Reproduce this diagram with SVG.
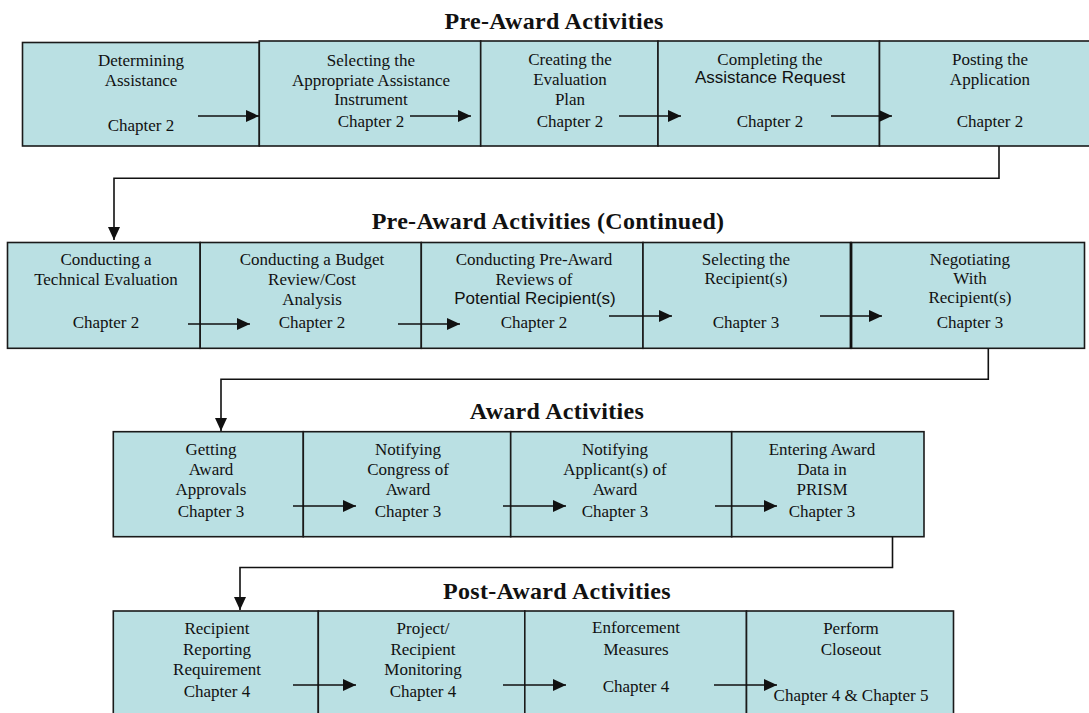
<svg xmlns="http://www.w3.org/2000/svg" width="1089" height="713" viewBox="0 0 1089 713">
<style>
.box{fill:#BAE0E3;stroke:#1a1a1a;stroke-width:1.6}
.t{font-family:"Liberation Serif","Times New Roman",serif;font-size:17px;fill:#111;text-anchor:middle}
.s{font-family:"Liberation Sans",Arial,sans-serif;font-size:17px;fill:#111;text-anchor:middle}
.h{font-family:"Liberation Serif","Times New Roman",serif;font-size:24px;font-weight:bold;fill:#111;text-anchor:middle;letter-spacing:0.3px}
.c{fill:none;stroke:#111;stroke-width:1.6}
</style>
<defs>
<marker id="ah" viewBox="0 0 13 12" refX="13" refY="6" markerWidth="13" markerHeight="12" markerUnits="userSpaceOnUse" orient="auto">
<path d="M0,0 L13,6 L0,12 z" fill="#111"/>
</marker>
</defs>
<rect width="1089" height="713" fill="#fff"/>
<g id="titles">
<text class="h" x="554" y="29">Pre-Award Activities</text>
<text class="h" x="548" y="229">Pre-Award Activities (Continued)</text>
<text class="h" x="557" y="419">Award Activities</text>
<text class="h" x="557" y="599">Post-Award Activities</text>
</g>
<g id="n1"><rect class="box" x="22.5" y="42.5" width="236.8" height="103.5"/>
<text class="t" x="141" y="66">Determining</text><text class="t" x="141" y="86">Assistance</text><text class="t" x="141" y="131">Chapter 2</text></g>
<g id="n2"><rect class="box" x="259.3" y="41" width="221.4" height="105"/>
<text class="t" x="371" y="66">Selecting the</text><text class="t" x="371" y="86">Appropriate Assistance</text><text class="t" x="371" y="105">Instrument</text><text class="t" x="371" y="127">Chapter 2</text></g>
<g id="n3"><rect class="box" x="480.7" y="41" width="177.3" height="105"/>
<text class="t" x="570" y="65">Creating the</text><text class="t" x="570" y="85">Evaluation</text><text class="t" x="570" y="105">Plan</text><text class="t" x="570" y="127">Chapter 2</text></g>
<g id="n4"><rect class="box" x="658" y="41" width="221.5" height="105"/>
<text class="t" x="770" y="65">Completing the</text><text class="s" x="770" y="83">Assistance Request</text><text class="t" x="770" y="127">Chapter 2</text></g>
<g id="n5"><rect class="box" x="879.5" y="41" width="215" height="105"/>
<text class="t" x="990" y="65">Posting the</text><text class="t" x="990" y="85">Application</text><text class="t" x="990" y="127">Chapter 2</text></g>

<g id="n6"><rect class="box" x="7.5" y="242.5" width="192.7" height="105.8"/>
<text class="t" x="106" y="265">Conducting a</text><text class="t" x="106" y="285">Technical Evaluation</text><text class="t" x="106" y="328">Chapter 2</text></g>
<g id="n7"><rect class="box" x="200.2" y="242.5" width="221.1" height="105.8"/>
<text class="t" x="312" y="265">Conducting a Budget</text><text class="t" x="312" y="285">Review/Cost</text><text class="t" x="312" y="305">Analysis</text><text class="t" x="312" y="328">Chapter 2</text></g>
<g id="n8"><rect class="box" x="421.3" y="242.5" width="221.7" height="105.8"/>
<text class="t" x="534" y="265">Conducting Pre-Award</text><text class="t" x="534" y="285">Reviews of</text><text class="s" x="535" y="304">Potential Recipient(s)</text><text class="t" x="534" y="328">Chapter 2</text></g>
<g id="n9"><rect class="box" x="643" y="242.5" width="208" height="105.8"/>
<text class="t" x="746" y="265">Selecting the</text><text class="t" x="746" y="284">Recipient(s)</text><text class="t" x="746" y="328">Chapter 3</text></g>
<g id="n10"><rect class="box" x="851" y="242.5" width="233.5" height="105.8" style="stroke-width:1.6"/>
<line x1="851" y1="242.5" x2="851" y2="348.3" stroke="#111" stroke-width="2.8"/>
<text class="t" x="970" y="265">Negotiating</text><text class="t" x="970" y="284">With</text><text class="t" x="970" y="303">Recipient(s)</text><text class="t" x="970" y="328">Chapter 3</text></g>

<g id="n11"><rect class="box" x="113.3" y="431.7" width="190" height="105"/>
<text class="t" x="211" y="455">Getting</text><text class="t" x="211" y="475">Award</text><text class="t" x="211" y="495">Approvals</text><text class="t" x="211" y="517">Chapter 3</text></g>
<g id="n12"><rect class="box" x="303.3" y="431.7" width="207.4" height="105"/>
<text class="t" x="408" y="455">Notifying</text><text class="t" x="408" y="475">Congress of</text><text class="t" x="408" y="495">Award</text><text class="t" x="408" y="517">Chapter 3</text></g>
<g id="n13"><rect class="box" x="510.7" y="431.7" width="221" height="105"/>
<text class="t" x="615" y="455">Notifying</text><text class="t" x="615" y="475">Applicant(s) of</text><text class="t" x="615" y="495">Award</text><text class="t" x="615" y="517">Chapter 3</text></g>
<g id="n14"><rect class="box" x="731.7" y="431.7" width="192.3" height="105"/>
<text class="t" x="822" y="455">Entering Award</text><text class="t" x="822" y="475">Data in</text><text class="t" x="822" y="495">PRISM</text><text class="t" x="822" y="517">Chapter 3</text></g>

<g id="n15"><rect class="box" x="113.3" y="611" width="205" height="112"/>
<text class="t" x="217" y="634">Recipient</text><text class="t" x="217" y="655">Reporting</text><text class="t" x="217" y="675">Requirement</text><text class="t" x="217" y="697">Chapter 4</text></g>
<g id="n16"><rect class="box" x="318.3" y="611" width="206.5" height="112"/>
<text class="t" x="423" y="634">Project/</text><text class="t" x="423" y="655">Recipient</text><text class="t" x="423" y="675">Monitoring</text><text class="t" x="423" y="697">Chapter 4</text></g>
<g id="n17"><rect class="box" x="524.8" y="611" width="221.7" height="112"/>
<text class="t" x="636" y="633">Enforcement</text><text class="t" x="636" y="655">Measures</text><text class="t" x="636" y="692">Chapter 4</text></g>
<g id="n18"><rect class="box" x="746.5" y="611" width="207" height="112"/>
<text class="t" x="851" y="634">Perform</text><text class="t" x="851" y="655">Closeout</text><text class="t" x="851" y="701">Chapter 4 &amp; Chapter 5</text></g>

<g id="connectors">
<line class="c" x1="198" y1="116" x2="259" y2="116" marker-end="url(#ah)"/>
<line class="c" x1="410" y1="116" x2="471" y2="116" marker-end="url(#ah)"/>
<line class="c" x1="619" y1="116" x2="681" y2="116" marker-end="url(#ah)"/>
<line class="c" x1="831" y1="116" x2="892" y2="116" marker-end="url(#ah)"/>
<polyline class="c" points="999,146 999,178.3 114,178.3 114,240" marker-end="url(#ah)"/>
<line class="c" x1="188" y1="324" x2="250" y2="324" marker-end="url(#ah)"/>
<line class="c" x1="398" y1="324" x2="460" y2="324" marker-end="url(#ah)"/>
<line class="c" x1="609" y1="316" x2="672" y2="316" marker-end="url(#ah)"/>
<line class="c" x1="820" y1="316" x2="882" y2="316" marker-end="url(#ah)"/>
<polyline class="c" points="988.3,348.3 988.3,379.3 221,379.3 221,431" marker-end="url(#ah)"/>
<line class="c" x1="293" y1="506" x2="356" y2="506" marker-end="url(#ah)"/>
<line class="c" x1="503" y1="506" x2="566" y2="506" marker-end="url(#ah)"/>
<line class="c" x1="715" y1="506" x2="777" y2="506" marker-end="url(#ah)"/>
<polyline class="c" points="892.5,536.7 892.5,567.5 240,567.5 240,610" marker-end="url(#ah)"/>
<line class="c" x1="293" y1="685" x2="356" y2="685" marker-end="url(#ah)"/>
<line class="c" x1="503" y1="685" x2="566" y2="685" marker-end="url(#ah)"/>
<line class="c" x1="714" y1="685" x2="777" y2="685" marker-end="url(#ah)"/>
</g>
</svg>
